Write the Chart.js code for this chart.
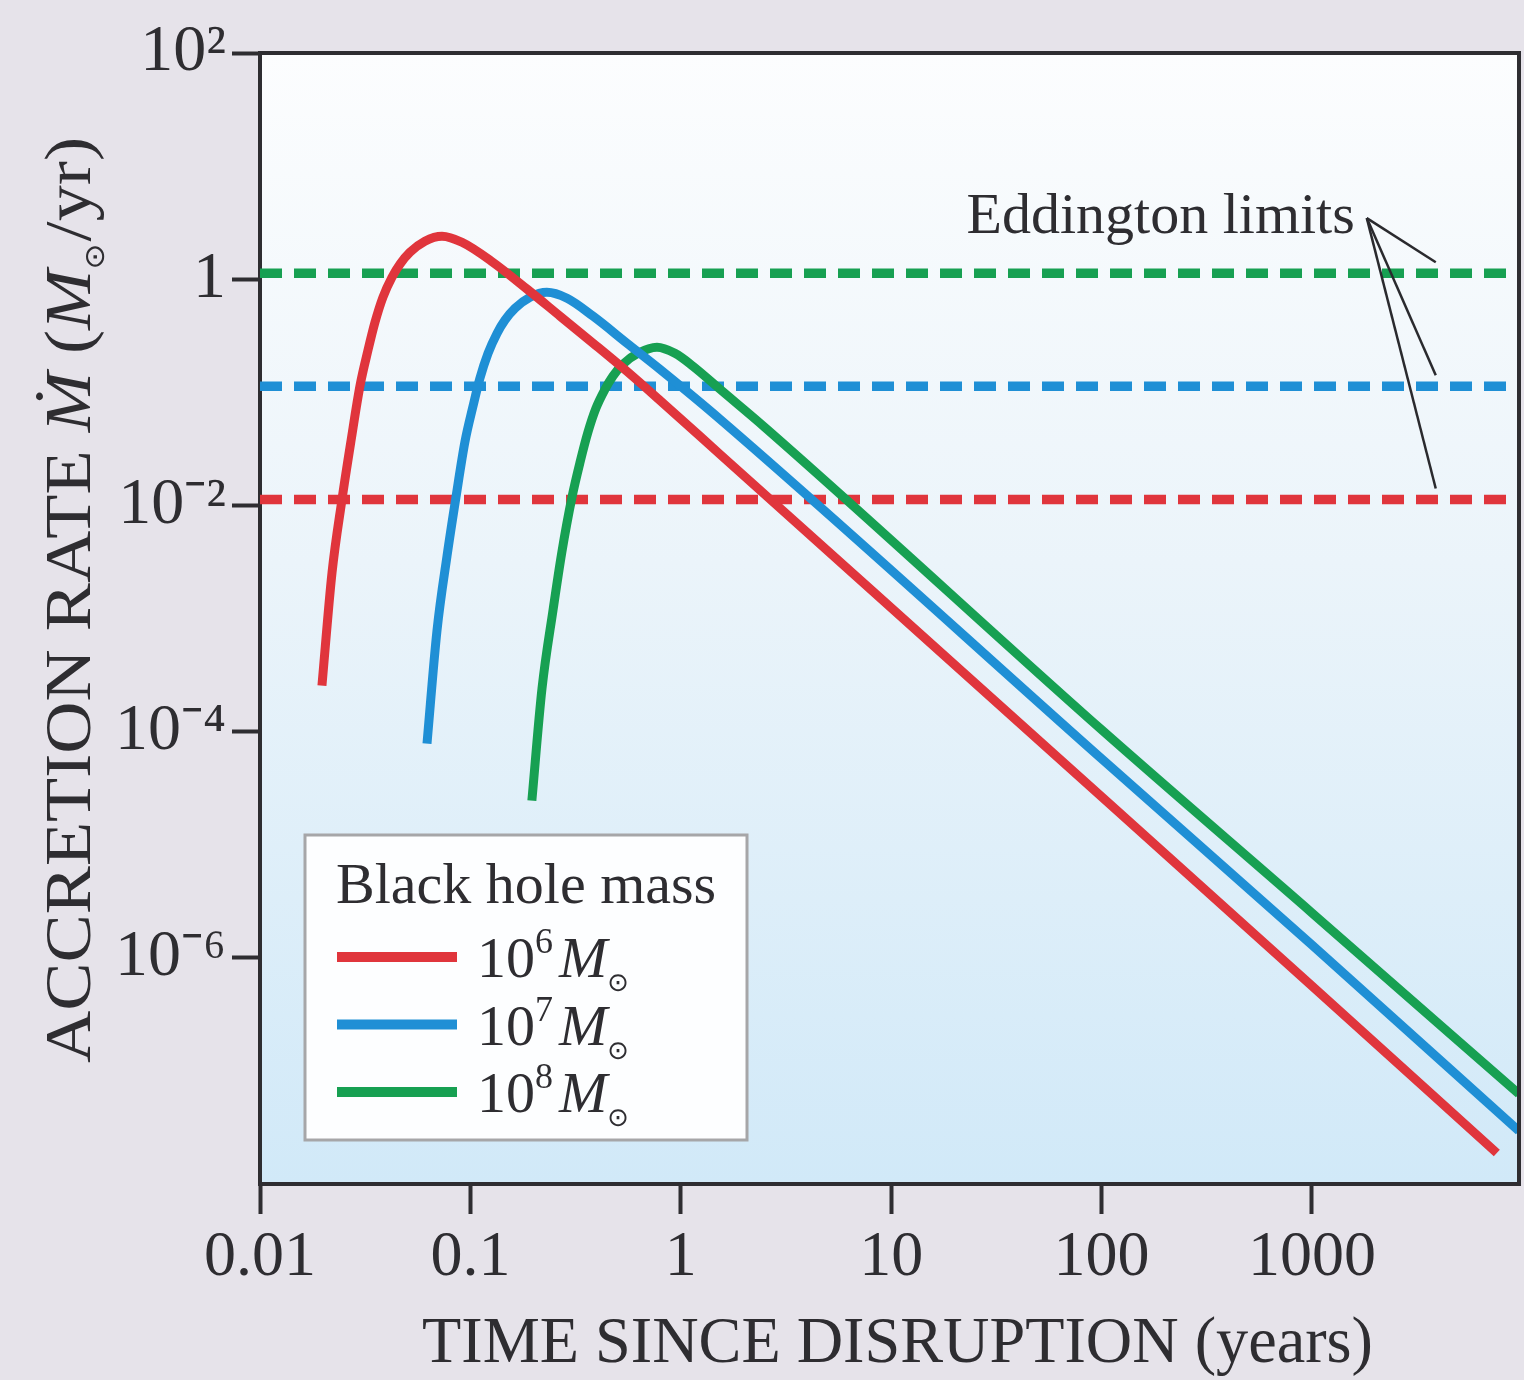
<!DOCTYPE html>
<html>
<head>
<meta charset="utf-8">
<script src="https://cdn.jsdelivr.net/npm/chart.js@4.4.1/dist/chart.umd.min.js"></script>
<style>
html,body{margin:0;padding:0;background:#e6e3ea;}
#wrap{width:1524px;height:1380px;}
</style>
</head>
<body>
<div id="wrap"><canvas id="c" width="1524" height="1380"></canvas></div>
<script>
// ---------------- data ----------------
const massExponents = ['6', '7', '8'];
const seriesColors = ['#e0353c', '#1f8fd5', '#17a052'];

// 10^6 Msun
const redTime = [0.0197, 0.0220, 0.0245, 0.0271, 0.0299, 0.0326, 0.0352, 0.0384, 0.0424, 0.0463, 0.0516, 0.0608, 0.0733, 0.0912, 0.128, 0.186, 0.267, 0.383, 0.555, 0.796, 1.54, 100, 1000, 7570];
const redRate = [2.55e-4, 2.55e-3, 1.11e-2, 3.76e-2, 0.115, 0.235, 0.416, 0.693, 1.04, 1.36, 1.73, 2.17, 2.40, 2.12, 1.41, 0.817, 0.471, 0.272, 0.153, 0.0849, 0.0282, 2.66e-5, 5.65e-7, 1.88e-8];
// 10^7 Msun
const blueTime = [0.0622, 0.0694, 0.0774, 0.0854, 0.0943, 0.1029, 0.111, 0.1213, 0.134, 0.146, 0.163, 0.192, 0.231, 0.288, 0.383, 0.555, 0.796, 1.54, 100, 1000, 9640];
const blueRate = [7.83e-5, 7.83e-4, 3.54e-3, 1.18e-2, 3.68e-2, 0.0752, 0.133, 0.221, 0.333, 0.434, 0.553, 0.693, 0.767, 0.679, 0.471, 0.272, 0.160, 0.0577, 5.77e-5, 1.30e-6, 2.94e-8];
// 10^8 Msun
const greenTime = [0.196, 0.219, 0.247, 0.272, 0.304, 0.332, 0.362, 0.395, 0.436, 0.476, 0.531, 0.626, 0.771, 0.938, 1.143, 1.54, 2.51, 100, 1000, 9640];
const greenRate = [2.45e-5, 2.40e-4, 1.18e-3, 3.84e-3, 1.18e-2, 0.0240, 0.0443, 0.0721, 0.106, 0.139, 0.177, 0.221, 0.250, 0.221, 0.170, 0.106, 0.0490, 1.04e-4, 2.50e-6, 6.25e-8];

// Eddington limits for 10^6, 10^7, 10^8 Msun
const eddingtonLimits = [0.0113, 0.113, 1.13];

const xTickValues = [0.01, 0.1, 1, 10, 100, 1000];
const xTickLabels = ['0.01', '0.1', '1', '10', '100', '1000'];
const yTickValues = [100, 1, 0.01, 1e-4, 1e-6];
const yTickLabels = ['10²', '1', '10⁻²', '10⁻⁴', '10⁻⁶'];
const xRange = [0.01, 9650];
const yRange = [1e-8, 100];

const xTitle = 'TIME SINCE DISRUPTION (years)';
const legendTitle = 'Black hole mass';
const eddingtonText = 'Eddington limits';
// ------------------------------------------------------------------------

const FONT = '"Liberation Serif", "Times New Roman", serif';
const INK = '#2e2d31';

function pts(ts, ms) { return ts.map((t, i) => ({ x: t, y: ms[i] })); }

const curveSets = [[redTime, redRate], [blueTime, blueRate], [greenTime, greenRate]];
const datasets = [];
curveSets.forEach((c, i) => {
  datasets.push({
    label: '10^' + massExponents[i] + ' M☉',
    data: pts(c[0], c[1]),
    borderColor: seriesColors[i],
    borderWidth: 9,
    pointRadius: 0,
    fill: false,
    cubicInterpolationMode: 'monotone',
    borderCapStyle: 'butt',
    borderJoinStyle: 'round'
  });
});
eddingtonLimits.forEach((v, i) => {
  datasets.push({
    label: 'Eddington limit 10^' + massExponents[i],
    data: [{ x: xRange[0], y: v }, { x: xRange[1], y: v }],
    borderColor: seriesColors[i],
    borderWidth: 9.5,
    borderDash: [22, 12],
    borderCapStyle: 'butt',
    pointRadius: 0,
    fill: false
  });
});

const bgPlugin = {
  id: 'bg',
  beforeDraw(chart) {
    const { ctx, chartArea: a, width, height } = chart;
    ctx.save();
    ctx.fillStyle = '#e6e3ea';
    ctx.fillRect(0, 0, width, height);
    const g = ctx.createLinearGradient(0, a.top, 0, a.bottom);
    g.addColorStop(0, '#fcfdfe');
    g.addColorStop(0.45, '#ebf4fa');
    g.addColorStop(1, '#d1e9f8');
    ctx.fillStyle = g;
    ctx.fillRect(a.left, a.top, a.right - a.left, a.bottom - a.top);
    ctx.restore();
  }
};

function drawRuns(ctx, runs, x, y) {
  let cx = x;
  runs.forEach(r => {
    ctx.font = r.f;
    ctx.fillText(r.t, cx, y + (r.dy || 0));
    cx += ctx.measureText(r.t).width + (r.gap || 0);
  });
  return cx - x;
}
function runsWidth(ctx, runs) {
  let w = 0;
  runs.forEach(r => { ctx.font = r.f; w += ctx.measureText(r.t).width + (r.gap || 0); });
  return w;
}

const overlayPlugin = {
  id: 'overlay',
  afterDraw(chart) {
    const { ctx, chartArea: a } = chart;
    const xs = chart.scales.x, ys = chart.scales.y;
    ctx.save();
    // frame top and right
    ctx.strokeStyle = INK;
    ctx.lineWidth = 4;
    ctx.beginPath();
    ctx.moveTo(a.left - 2, a.top);
    ctx.lineTo(a.right, a.top);
    ctx.lineTo(a.right, a.bottom + 2);
    ctx.stroke();

    ctx.fillStyle = INK;
    ctx.textAlign = 'left';
    ctx.textBaseline = 'alphabetic';

    // Eddington annotation
    const tipT = 1824, tipM = 3.47, endT = 3880;
    const tx = xs.getPixelForValue(tipT), ty = ys.getPixelForValue(tipM);
    ctx.strokeStyle = '#2a2a2e';
    ctx.lineWidth = 2.5;
    eddingtonLimits.forEach(v => {
      ctx.beginPath();
      ctx.moveTo(tx, ty);
      ctx.lineTo(xs.getPixelForValue(endT), ys.getPixelForValue(v * 1.25));
      ctx.stroke();
    });
    ctx.font = `58px ${FONT}`;
    ctx.textAlign = 'right';
    ctx.fillText(eddingtonText, tx - 12, ty + 15);
    ctx.textAlign = 'left';

    // legend box
    const L = { x: 305, y: 835, w: 442, h: 305 };
    ctx.fillStyle = '#fdfeff';
    ctx.fillRect(L.x, L.y, L.w, L.h);
    ctx.strokeStyle = '#a6a6a8';
    ctx.lineWidth = 3;
    ctx.strokeRect(L.x, L.y, L.w, L.h);
    ctx.fillStyle = INK;
    ctx.font = `58px ${FONT}`;
    ctx.fillText(legendTitle, L.x + 31, L.y + 68);
    massExponents.forEach((e, i) => {
      const base = L.y + 142 + i * 67.5;
      ctx.strokeStyle = seriesColors[i];
      ctx.lineWidth = 10;
      ctx.lineCap = 'butt';
      ctx.beginPath();
      ctx.moveTo(L.x + 32, base - 20);
      ctx.lineTo(L.x + 152, base - 20);
      ctx.stroke();
      ctx.fillStyle = INK;
      drawRuns(ctx, [
        { t: '10', f: `58px ${FONT}` },
        { t: e, f: `36px ${FONT}`, dy: -24, gap: 6 },
        { t: 'M', f: `italic 58px ${FONT}`, gap: 0 },
        { t: '⊙', f: `26px "DejaVu Sans"`, dy: 14 }
      ], L.x + 172, base);
    });

    // x axis title
    ctx.fillStyle = INK;
    ctx.font = `65px ${FONT}`;
    const xw = ctx.measureText(xTitle).width;
    const xk = 951 / xw;
    ctx.save();
    ctx.translate((a.left + a.right) / 2 + 8, 1362);
    ctx.scale(xk, 1);
    ctx.textAlign = 'center';
    ctx.fillText(xTitle, 0, 0);
    ctx.restore();

    // y axis title
    const yRuns = [
      { t: 'ACCRETION RATE ', f: `65px ${FONT}` },
      { t: 'Ṁ', f: `italic 65px ${FONT}` },
      { t: ' (', f: `65px ${FONT}` },
      { t: 'M', f: `italic 65px ${FONT}`, gap: 0 },
      { t: '⊙', f: `28px "DejaVu Sans"`, dy: 14, gap: 2 },
      { t: '/yr)', f: `65px ${FONT}` }
    ];
    const yw = runsWidth(ctx, yRuns);
    const yk = 926 / yw;
    ctx.save();
    ctx.translate(90, 600);
    ctx.rotate(-Math.PI / 2);
    ctx.scale(yk, 1);
    ctx.textAlign = 'left';
    drawRuns(ctx, yRuns, -yw / 2, 0);
    ctx.restore();

    ctx.restore();
  }
};

new Chart(document.getElementById('c').getContext('2d'), {
  type: 'line',
  data: { datasets },
  options: {
    responsive: false,
    animation: false,
    devicePixelRatio: 1,
    layout: { padding: { left: 0, right: 5, top: 53, bottom: 0 } },
    plugins: { legend: { display: false }, tooltip: { enabled: false }, title: { display: false } },
    scales: {
      x: {
        type: 'logarithmic',
        min: xRange[0], max: xRange[1],
        position: 'bottom',
        afterBuildTicks: s => { s.ticks = xTickValues.map(v => ({ value: v })); },
        afterFit: s => { s.height = 196; },
        ticks: {
          autoSkip: false, maxRotation: 0, minRotation: 0,
          padding: 6,
          color: INK,
          font: { family: FONT, size: 64 },
          callback: v => xTickLabels[xTickValues.indexOf(v)]
        },
        grid: { display: true, drawOnChartArea: false, drawTicks: true, tickLength: 30, tickWidth: 4, tickColor: INK },
        border: { display: true, width: 4, color: INK }
      },
      y: {
        type: 'logarithmic',
        min: yRange[0], max: yRange[1],
        position: 'left',
        afterBuildTicks: s => { s.ticks = yTickValues.map(v => ({ value: v })); },
        afterFit: s => { s.width = 260; },
        ticks: {
          autoSkip: false,
          padding: 6,
          color: INK,
          font: { family: FONT, size: 66 },
          callback: v => yTickLabels[yTickValues.indexOf(v)]
        },
        grid: { display: true, drawOnChartArea: false, drawTicks: true, tickLength: 28, tickWidth: 4, tickColor: INK },
        border: { display: true, width: 4, color: INK }
      }
    }
  },
  plugins: [bgPlugin, overlayPlugin]
});
</script>
</body>
</html>
